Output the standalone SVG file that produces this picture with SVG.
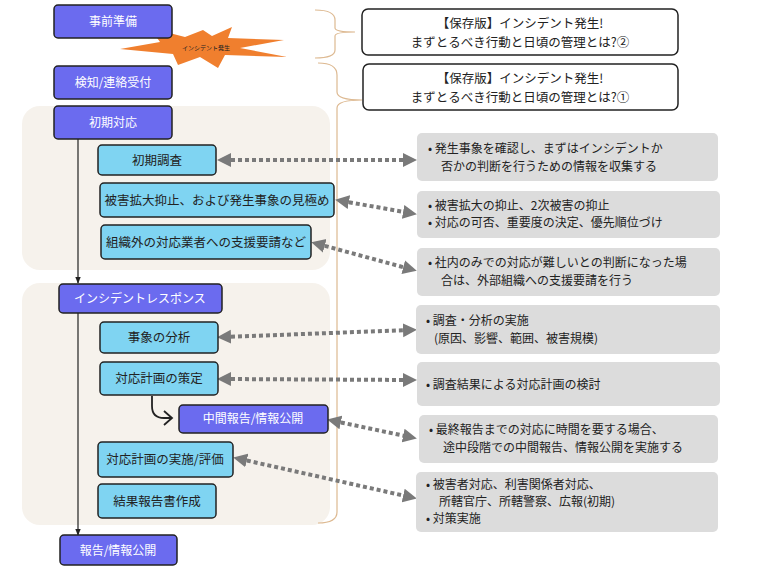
<svg xmlns="http://www.w3.org/2000/svg" width="768" height="576" viewBox="0 0 768 576">
<defs>
<style>
text{font-family:"Noto Sans CJK JP","Noto Sans",sans-serif;fill:#222}
.d{fill:#6b6bef;stroke:#222;stroke-width:1.5}
.d+text,.dt{fill:#fff;font-size:12px;text-anchor:middle}
.l{fill:#7fd4f2;stroke:#222;stroke-width:1.5}
.lt{font-size:12.5px;text-anchor:middle}
.g{fill:#dcdcdc}
.gt{font-size:12px}
.w{fill:#fff;stroke:#222;stroke-width:1.5}
.p{fill:#f6f2ec}
.dot{stroke:#7a7a7a;stroke-width:4;stroke-dasharray:4 3;fill:none;marker-start:url(#ah);marker-end:url(#ah)}
.br{fill:none;stroke:#ddb991;stroke-width:1.2}
</style>
<marker id="ah" viewBox="0 0 10 10" refX="5" refY="5" markerWidth="3.5" markerHeight="4" orient="auto-start-reverse"><path d="M0 0L10 5L0 10Z" fill="#7a7a7a"/></marker>
<marker id="ak" viewBox="0 0 10 10" refX="9" refY="5" markerWidth="6" markerHeight="6" orient="auto"><path d="M0 1L10 5L0 9Z" fill="#222"/></marker>
</defs>
<rect class="p" x="22" y="106" width="308" height="164" rx="18"/>
<rect class="p" x="22" y="283" width="308" height="242" rx="18"/>
<g id="braces">
<path class="br" d="M315 10 Q335 10 335 20 L335 28 Q335 32 355 32 Q335 32 335 36 L335 50 Q335 58 315 58"/>
<path class="br" d="M318 63 Q337 63 337 75 L337 92 Q337 100 362 100 Q337 100 337 108 L337 512 Q337 523 318 523"/>
</g>
<g id="connectors">
<line x1="78" y1="139" x2="78" y2="283" stroke="#222" stroke-width="1.2" marker-end="url(#ak)"/>
<line x1="78" y1="313" x2="78" y2="535" stroke="#222" stroke-width="1.2" marker-end="url(#ak)"/>
<path d="M152 396 L152 406 Q152 418 164 418 L172 418 M164 411 L172 418 L164 425" fill="none" stroke="#222" stroke-width="1.8"/>
<path class="dot" d="M224 160 L410 160"/>
<path class="dot" d="M342 201 L410 213"/>
<path class="dot" d="M318 244 L410 269"/>
<path class="dot" d="M224 337 L410 330"/>
<path class="dot" d="M224 379 L410 380"/>
<path class="dot" d="M334 421 L410 437"/>
<path class="dot" d="M240 459 L410 497"/>
</g>
<g id="burst"><polygon points="120,49 160,42 150,28 185,37 203,30 212,36 232,27 228,38 284,40 240,48 287,57 225,55 218,68 200,57 178,65 173,54" fill="#f07f2e"/><text x="206" y="50" font-size="6" text-anchor="middle">インシデント発生</text></g>
<g id="n1"><rect class="d" x="54" y="5" width="118" height="33" rx="4"/><text class="dt" x="113" y="26">事前準備</text></g>
<g id="n2"><rect class="d" x="54" y="66" width="118" height="33" rx="4"/><text class="dt" x="113" y="87">検知/連絡受付</text></g>
<g id="n3"><rect class="d" x="54" y="106" width="118" height="33" rx="4"/><text class="dt" x="113" y="127">初期対応</text></g>
<g id="n4"><rect class="l" x="98" y="145" width="118" height="30" rx="4"/><text class="lt" x="157" y="165">初期調査</text></g>
<g id="n5"><rect class="l" x="100" y="183" width="234" height="34" rx="4"/><text class="lt" x="217" y="205">被害拡大抑止、および発生事象の見極め</text></g>
<g id="n6"><rect class="l" x="101" y="225" width="210" height="34" rx="4"/><text class="lt" x="206" y="247">組織外の対応業者への支援要請など</text></g>
<g id="n7"><rect class="d" x="59" y="284" width="163" height="29" rx="4"/><text class="dt" x="140" y="303">インシデントレスポンス</text></g>
<g id="n8"><rect class="l" x="100" y="322" width="118" height="31" rx="4"/><text class="lt" x="159" y="342">事象の分析</text></g>
<g id="n9"><rect class="l" x="100" y="362" width="118" height="33" rx="4"/><text class="lt" x="159" y="383">対応計画の策定</text></g>
<g id="n10"><rect class="d" x="179" y="405" width="149" height="28" rx="4"/><text class="dt" x="253" y="423">中間報告/情報公開</text></g>
<g id="n11"><rect class="l" x="98" y="442" width="135" height="35" rx="4"/><text class="lt" x="165" y="464">対応計画の実施/評価</text></g>
<g id="n12"><rect class="l" x="98" y="484" width="118" height="34" rx="4"/><text class="lt" x="157" y="506">結果報告書作成</text></g>
<g id="n13"><rect class="d" x="60" y="535" width="117" height="30" rx="4"/><text class="dt" x="118" y="555">報告/情報公開</text></g>
<g id="w1"><rect class="w" x="362" y="9" width="316" height="46" rx="6"/><text x="520" y="28" font-size="12.5" text-anchor="middle">【保存版】インシデント発生!</text><text x="520" y="47" font-size="12.5" text-anchor="middle">まずとるべき行動と日頃の管理とは?②</text></g>
<g id="w2"><rect class="w" x="363" y="64" width="315" height="46" rx="6"/><text x="520" y="83" font-size="12.5" text-anchor="middle">【保存版】インシデント発生!</text><text x="520" y="102" font-size="12.5" text-anchor="middle">まずとるべき行動と日頃の管理とは?①</text></g>
<g id="g1"><rect class="g" x="417" y="133" width="301" height="48" rx="5"/><text class="gt" x="428" y="153">•  発生事象を確認し、まずはインシデントか</text><text class="gt" x="441" y="171">否かの判断を行うための情報を収集する</text></g>
<g id="g2"><rect class="g" x="417" y="191" width="303" height="47" rx="5"/><text class="gt" x="428" y="210">•  被害拡大の抑止、2次被害の抑止</text><text class="gt" x="428" y="227">•  対応の可否、重要度の決定、優先順位づけ</text></g>
<g id="g3"><rect class="g" x="417" y="248" width="303" height="48" rx="5"/><text class="gt" x="428" y="267">•  社内のみでの対応が難しいとの判断になった場</text><text class="gt" x="441" y="285">合は、外部組織への支援要請を行う</text></g>
<g id="g4"><rect class="g" x="416" y="305" width="304" height="49" rx="5"/><text class="gt" x="426" y="325">•  調査・分析の実施</text><text class="gt" x="434" y="343">(原因、影響、範囲、被害規模)</text></g>
<g id="g5"><rect class="g" x="417" y="362" width="303" height="44" rx="5"/><text class="gt" x="426" y="389">•  調査結果による対応計画の検討</text></g>
<g id="g6"><rect class="g" x="419" y="415" width="299" height="48" rx="5"/><text class="gt" x="429" y="434">•  最終報告までの対応に時間を要する場合、</text><text class="gt" x="443" y="452">途中段階での中間報告、情報公開を実施する</text></g>
<g id="g7"><rect class="g" x="416" y="472" width="302" height="60" rx="5"/><text class="gt" x="426" y="489">•  被害者対応、利害関係者対応、</text><text class="gt" x="439" y="506">所轄官庁、所轄警察、広報(初期)</text><text class="gt" x="426" y="523">•  対策実施</text></g>
</svg>
